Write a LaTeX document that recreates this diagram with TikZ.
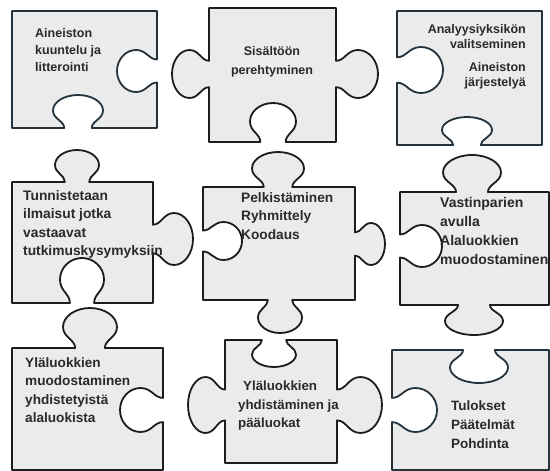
\documentclass[tikz,border=0pt]{standalone}
\usepackage{fontspec}
\setmainfont{Liberation Sans}
\usepackage{tikz}

\definecolor{piecefill}{HTML}{EBEBEB}
\definecolor{pieceline}{HTML}{1C1C1C}
\definecolor{slateline}{HTML}{24323C}
\definecolor{textgray}{HTML}{2A2A2A}

% tab on a vertical edge: x, centre y, out sign, travel sign, radius, depth
\newcommand{\vtab}[6]{%
  -- ({#1},{#2-(#4)*0.55*#5})
  .. controls ({#1+(#3)*(0.2*#6+0.4)},{#2-(#4)*0.55*#5}) and ({#1+(#3)*(0.225*#6+1.55)},{#2-(#4)*#5})
  .. ({#1+(#3)*(0.5*#6+1)},{#2-(#4)*#5})
  .. controls ({#1+(#3)*(0.775*#6+0.45)},{#2-(#4)*#5}) and ({#1+(#3)*#6},{#2-(#4)*0.55*#5})
  .. ({#1+(#3)*#6},{#2})
  .. controls ({#1+(#3)*#6},{#2+(#4)*0.55*#5}) and ({#1+(#3)*(0.775*#6+0.45)},{#2+(#4)*#5})
  .. ({#1+(#3)*(0.5*#6+1)},{#2+(#4)*#5})
  .. controls ({#1+(#3)*(0.225*#6+1.55)},{#2+(#4)*#5}) and ({#1+(#3)*(0.2*#6+0.4)},{#2+(#4)*0.55*#5})
  .. ({#1},{#2+(#4)*0.55*#5})}

% tab on a horizontal edge: y, centre x, out sign, travel sign, radius, depth
\newcommand{\htab}[6]{%
  -- ({#2-(#4)*0.55*#5},{#1})
  .. controls ({#2-(#4)*0.55*#5},{#1+(#3)*(0.2*#6+0.4)}) and ({#2-(#4)*#5},{#1+(#3)*(0.225*#6+1.55)})
  .. ({#2-(#4)*#5},{#1+(#3)*(0.5*#6+1)})
  .. controls ({#2-(#4)*#5},{#1+(#3)*(0.775*#6+0.45)}) and ({#2-(#4)*0.55*#5},{#1+(#3)*#6})
  .. ({#2},{#1+(#3)*#6})
  .. controls ({#2+(#4)*0.55*#5},{#1+(#3)*#6}) and ({#2+(#4)*#5},{#1+(#3)*(0.775*#6+0.45)})
  .. ({#2+(#4)*#5},{#1+(#3)*(0.5*#6+1)})
  .. controls ({#2+(#4)*#5},{#1+(#3)*(0.225*#6+1.55)}) and ({#2+(#4)*0.55*#5},{#1+(#3)*(0.2*#6+0.4)})
  .. ({#2+(#4)*0.55*#5},{#1})}

\begin{document}
\begin{tikzpicture}[x=1pt, y=-1pt,
    piece/.style={fill=piecefill, draw=pieceline, line width=1.8pt, line join=round},
    slate/.style={draw=slateline},
    txt/.style={inner sep=0pt, text=textgray, font=\bfseries, align=left}]

\useasboundingbox (0,0) rectangle (550,471);

% Pieces

\draw[piece, slate] (12,11) -- (157,11) \vtab{157}{71}{-1}{1}{21}{40} -- (157,128)
    \htab{128}{78}{-1}{-1}{25}{33} -- (12,128) -- cycle;
\draw[piece] (209,8) -- (336,8) \vtab{336}{74}{1}{1}{24}{42} -- (336,142)
    \htab{142}{273}{-1}{-1}{23}{39} -- (209,142) \vtab{209}{74}{-1}{-1}{24}{37} -- cycle;
\draw[piece, slate] (397,11) -- (542,11) -- (542,145)
    \htab{145}{467}{-1}{-1}{25}{28} -- (397,145) \vtab{397}{70}{1}{-1}{23}{46} -- cycle;

\draw[piece] (12,182) \htab{182}{77}{-1}{1}{22}{32} -- (153,182) \vtab{153}{239}{1}{1}{26}{40}
    -- (153,303) \htab{303}{82}{-1}{-1}{22}{45} -- (12,303) -- cycle;
\draw[piece] (203,187) \htab{187}{278}{-1}{1}{26}{35} -- (355,187) \vtab{355}{244}{1}{1}{21}{30}
    -- (355,300) \htab{300}{280}{1}{-1}{22}{33} -- (203,300) \vtab{203}{241}{1}{-1}{19}{39} -- cycle;
\draw[piece] (400,192) \htab{192}{472}{-1}{1}{29}{37} -- (549,192) -- (549,305)
    \htab{305}{474}{1}{-1}{29}{30} -- (400,305) \vtab{400}{246}{1}{-1}{21}{42} -- cycle;

\draw[piece] (12,348) \htab{348}{90}{-1}{1}{27}{40} -- (163,348) \vtab{163}{410}{-1}{1}{22}{43}
    -- (163,470) -- (12,470) -- cycle;
\draw[piece] (225,340) \htab{340}{274}{1}{1}{22}{27} -- (337,340) \vtab{337}{405}{1}{1}{28}{45}
    -- (337,463) -- (225,463) \vtab{225}{405}{-1}{-1}{28}{37} -- cycle;
\draw[piece, slate] (392,350) \htab{350}{479}{1}{1}{29}{33} -- (549,350) -- (549,470)
    -- (392,470) \vtab{392}{410}{1}{-1}{22}{45} -- cycle;

% Labels

\node[txt, anchor=north west, font=\bfseries\fontsize{12.5}{17}\selectfont] (t1) at (35,28)
    {Aineiston\\kuuntelu ja\\litterointi};
\node[txt, anchor=north, align=center, font=\bfseries\fontsize{12.5}{19}\selectfont] (t2) at (272,46)
    {Sisältöön\\perehtyminen};
\node[txt, anchor=north east, align=right, font=\bfseries\fontsize{12.5}{15}\selectfont] (t3a) at (526,24)
    {Analyysiyksikön\\valitseminen};
\node[txt, anchor=north east, align=right, font=\bfseries\fontsize{12.5}{15}\selectfont] (t3b) at (526,62)
    {Aineiston\\järjestelyä};

\node[txt, anchor=north west, font=\bfseries\fontsize{13.8}{18.5}\selectfont] (t4) at (23,190)
    {Tunnistetaan\\ilmaisut jotka\\vastaavat\\tutkimuskysymyksiin};
\node[txt, anchor=north west, font=\bfseries\fontsize{13.7}{18.5}\selectfont] (t5) at (241,192)
    {Pelkistäminen\\Ryhmittely\\Koodaus};
\node[txt, anchor=north west, font=\bfseries\fontsize{14}{19}\selectfont] (t6) at (440,197)
    {Vastinparien\\avulla\\Alaluokkien\\muodostaminen};

\node[txt, anchor=north west, font=\bfseries\fontsize{13.6}{18.5}\selectfont] (t7) at (25,357)
    {Yläluokkien\\muodostaminen\\yhdistetyistä\\alaluokista};
\node[txt, anchor=north west, font=\bfseries\fontsize{13.3}{18.5}\selectfont] (t8) at (238,381)
    {\hspace{5pt}Yläluokkien\\yhdistäminen ja\\pääluokat};
\node[txt, anchor=north west, font=\bfseries\fontsize{13.5}{19}\selectfont] (t9) at (451,401)
    {Tulokset\\Päätelmät\\Pohdinta};

\end{tikzpicture}
\end{document}
